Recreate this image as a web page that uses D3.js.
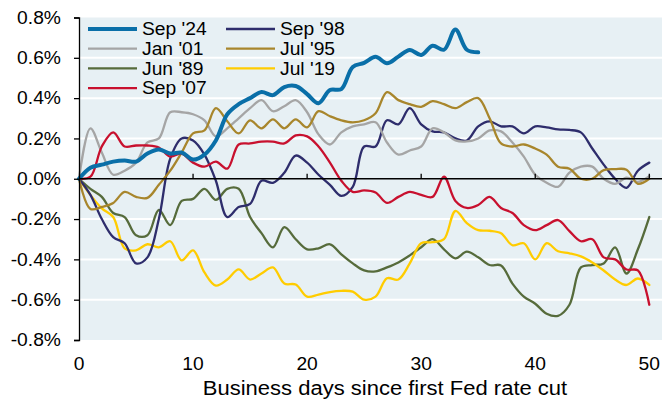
<!DOCTYPE html>
<html>
<head>
<meta charset="utf-8">
<script src="https://cdn.jsdelivr.net/npm/d3@7"></script>
<style>
  body { margin: 0; background: #fff; }
  svg.vis { width: 667px; height: 400px; display: block; font-family: "Liberation Sans", Arial, sans-serif; }
</style>
</head>
<body>
<svg class="vis" width="667" height="400"></svg>
<script>
// % change by business day since first cut (index = day)
const sep24 = [0, 0.055, 0.07, 0.085, 0.09, 0.085, 0.125, 0.145, 0.125, 0.13, 0.095, 0.12, 0.19, 0.32, 0.37, 0.4,
  0.43, 0.415, 0.455, 0.46, 0.42, 0.375, 0.44, 0.445, 0.555, 0.575, 0.605, 0.573, 0.606, 0.639, 0.614, 0.66, 0.64, 0.74, 0.64, 0.627];
const jan01 = [0, 0.25, 0.13, 0.02, 0.04, 0.08, 0.18, 0.2, 0.33, 0.33, 0.32, 0.29, 0.21, 0.25, 0.3, 0.35,
  0.39, 0.335, 0.36, 0.39, 0.33, 0.22, 0.17, 0.23, 0.26, 0.27, 0.28, 0.18, 0.12, 0.14, 0.16, 0.25, 0.23, 0.19, 0.185, 0.2,
  0.24, 0.235, 0.18, 0.11, 0.02, -0.02, -0.04, 0.03, 0.06, 0.06, 0.0, -0.025, 0.005, -0.015, 0.013];
const jun89 = [0, -0.05, -0.09, -0.17, -0.19, -0.28, -0.28, -0.155, -0.23, -0.11, -0.1, -0.05, -0.105, -0.05, -0.05, -0.19,
  -0.27, -0.34, -0.24, -0.3, -0.35, -0.345, -0.325, -0.375, -0.42, -0.455, -0.46, -0.44, -0.415, -0.38, -0.34, -0.3, -0.35, -0.395, -0.362, -0.39,
  -0.428, -0.43, -0.52, -0.585, -0.62, -0.67, -0.68, -0.625, -0.44, -0.428, -0.42, -0.34, -0.47, -0.35, -0.19];
const sep07 = [0, 0.01, 0.16, 0.23, 0.16, 0.165, 0.165, 0.155, 0.11, 0.125, 0.08, 0.06, 0.085, 0.05, 0.17, 0.175,
  0.184, 0.184, 0.175, 0.215, 0.21, 0.16, 0.08, -0.01, -0.065, -0.058, -0.068, -0.12, -0.09, -0.065, -0.08, -0.09, 0.01, -0.11, -0.145, -0.13,
  -0.09, -0.145, -0.17, -0.23, -0.255, -0.23, -0.205, -0.26, -0.31, -0.3, -0.39, -0.4, -0.45, -0.455, -0.625];
const sep98 = [0, -0.08, -0.2, -0.29, -0.32, -0.42, -0.39, -0.2, 0.1, 0.2, 0.19, 0.12, -0.01, -0.19, -0.14, -0.125,
  -0.01, -0.02, 0.03, 0.115, 0.08, 0.02, -0.03, -0.085, -0.04, 0.16, 0.16, 0.29, 0.27, 0.35, 0.27, 0.235, 0.23, 0.2, 0.19, 0.26,
  0.285, 0.26, 0.26, 0.225, 0.26, 0.255, 0.245, 0.242, 0.23, 0.15, 0.07, 0.0, -0.045, 0.04, 0.08];
const jul95 = [0, -0.15, -0.14, -0.12, -0.065, -0.09, -0.095, -0.03, 0.04, 0.13, 0.225, 0.24, 0.35, 0.285, 0.225, 0.29,
  0.25, 0.295, 0.25, 0.295, 0.255, 0.335, 0.31, 0.29, 0.28, 0.29, 0.325, 0.43, 0.39, 0.37, 0.357, 0.385, 0.37, 0.35, 0.38, 0.4,
  0.3, 0.175, 0.16, 0.17, 0.15, 0.12, 0.06, 0.05, 0.0, 0.0, 0.043, 0.048, 0.045, -0.025, 0.0];
const jul19 = [0, -0.08, -0.147, -0.19, -0.345, -0.355, -0.325, -0.34, -0.31, -0.405, -0.355, -0.465, -0.53, -0.5, -0.45, -0.5,
  -0.47, -0.44, -0.52, -0.525, -0.585, -0.575, -0.562, -0.556, -0.56, -0.6, -0.585, -0.494, -0.5, -0.42, -0.32, -0.315, -0.3, -0.16, -0.22, -0.255,
  -0.258, -0.27, -0.33, -0.32, -0.4, -0.32, -0.36, -0.37, -0.385, -0.415, -0.455, -0.5, -0.527, -0.495, -0.527];

const yTicks = [-0.8, -0.6, -0.4, -0.2, 0, 0.2, 0.4, 0.6, 0.8];
const xTicks = [0, 10, 20, 30, 40, 50];
const xTitle = 'Business days since first Fed rate cut';

const legendCol1 = ["Sep '24", "Jan '01", "Jun '89", "Sep '07"];
const legendCol2 = ["Sep '98", "Jul '95", "Jul '19"];

const v = {

    series : [
        { name : "Jun '89", values : jun89, color : '#566b3b', width : 2.3 },
        { name : "Jul '19", values : jul19, color : '#ffcc00', width : 2.3 },
        { name : "Sep '98", values : sep98, color : '#2e2d6c', width : 2.3 },
        { name : "Jan '01", values : jan01, color : '#a5a5a5', width : 2.3 },
        { name : "Jul '95", values : jul95, color : '#a8862c', width : 2.3 },
        { name : "Sep '07", values : sep07, color : '#c8102e', width : 2.3 },
        { name : "Sep '24", values : sep24, color : '#0a6fa8', width : 4 }
    ],

    sizings : {
        left : 79,
        right : 662,
        top : 17.5,
        bottom : 340,
        x50 : 649.3,
        stretch : 1.1,
        font : 17.5,
        yLabelRight : 61
    },

    scales : {
        x : null,
        y : null,
        make : () => {
            const s = v.sizings;
            v.scales.x = d3.scaleLinear().domain([0, 50]).range([s.left, s.x50]);
            v.scales.y = d3.scaleLinear().domain([-0.8, 0.8]).range([s.bottom, s.top]);
        }
    },

    // widen glyphs a little, the source chart text is horizontally stretched
    widen : (sel) => {
        sel.each(function() {
            const w = this.getComputedTextLength();
            d3.select(this)
              .attr('textLength', w * v.sizings.stretch)
              .attr('lengthAdjust', 'spacingAndGlyphs');
        });
    },

    // plain hyphen instead of d3's unicode minus
    pct : d => d3.format('.1f')(d).replace('\u2212', '-') + '%',

    render : {

        frame : (svg) => {
            const s = v.sizings, y = v.scales.y;

            svg.append('rect')
              .attr('x', s.left).attr('y', s.top)
              .attr('width', s.right - s.left).attr('height', s.bottom - s.top)
              .attr('fill', '#e7f0f4');

            svg.append('g')
              .selectAll('line')
              .data(yTicks.filter(d => d !== 0 && d !== 0.8 && d !== -0.8))
              .join('line')
              .attr('x1', s.left).attr('x2', s.right)
              .attr('y1', d => y(d)).attr('y2', d => y(d))
              .attr('stroke', '#fff').attr('stroke-width', 2);
        },

        axes : (svg) => {
            const s = v.sizings, x = v.scales.x, y = v.scales.y;

            // y axis: line + ticks from d3, labels placed by hand (start-anchored)
            const ya = svg.append('g').attr('transform', `translate(${s.left},0)`)
              .call(d3.axisLeft(y).tickValues(yTicks).tickSize(5).tickFormat(''));
            ya.select('.domain').attr('stroke', '#000').attr('stroke-width', 1.3);
            ya.selectAll('.tick line').attr('stroke', '#000').attr('stroke-width', 1.3);

            svg.append('g')
              .selectAll('text')
              .data(yTicks)
              .join('text')
              .attr('y', d => y(d) + s.font * 0.35)
              .attr('font-size', s.font)
              .attr('fill', '#000')
              .text(v.pct)
              .each(function() {
                  const w = this.getComputedTextLength() * s.stretch;
                  d3.select(this)
                    .attr('x', s.yLabelRight - w)
                    .attr('textLength', w)
                    .attr('lengthAdjust', 'spacingAndGlyphs');
              });

            // zero line with upward ticks
            svg.append('line')
              .attr('x1', s.left).attr('x2', s.right)
              .attr('y1', y(0)).attr('y2', y(0))
              .attr('stroke', '#000').attr('stroke-width', 1.3);
            svg.append('g')
              .selectAll('line')
              .data(xTicks.filter(d => d > 0))
              .join('line')
              .attr('x1', d => x(d)).attr('x2', d => x(d))
              .attr('y1', y(0)).attr('y2', y(0) - 5)
              .attr('stroke', '#000').attr('stroke-width', 1.3);

            svg.append('g')
              .selectAll('text')
              .data(xTicks)
              .join('text')
              .attr('x', d => x(d)).attr('y', 370)
              .attr('text-anchor', 'middle')
              .attr('font-size', s.font)
              .text(d => d)
              .call(v.widen);

            svg.append('text')
              .attr('x', 385).attr('y', 395)
              .attr('text-anchor', 'middle')
              .attr('font-size', 20)
              .text(xTitle)
              .call(v.widen);
        },

        lines : (svg) => {
            const x = v.scales.x, y = v.scales.y;
            const line = d3.line()
              .x((d, i) => x(i))
              .y(d => y(d))
              .curve(d3.curveCatmullRom.alpha(0.5));

            svg.append('g')
              .selectAll('path')
              .data(v.series)
              .join('path')
              .attr('d', d => line(d.values))
              .attr('fill', 'none')
              .attr('stroke', d => d.color)
              .attr('stroke-width', d => d.width)
              .attr('stroke-linejoin', 'round')
              .attr('stroke-linecap', 'round');
        },

        legend : (svg) => {
            const byName = {};
            v.series.forEach(d => byName[d.name] = d);
            const cols = [
                { names : legendCol1, x0 : 88 },
                { names : legendCol2, x0 : 226 }
            ];
            cols.forEach(c => {
                const g = svg.append('g')
                  .selectAll('g')
                  .data(c.names)
                  .join('g')
                  .attr('transform', (d, i) => `translate(${c.x0},${29 + i * 19.7})`);
                g.append('line')
                  .attr('x1', 0).attr('x2', 49)
                  .attr('stroke', d => byName[d].color)
                  .attr('stroke-width', d => byName[d].width);
                g.append('text')
                  .attr('x', 54).attr('y', 6.3)
                  .attr('font-size', v.sizings.font)
                  .text(d => d)
                  .call(v.widen);
            });
        }
    },

    ctrl : {
        init : () => {
            const svg = d3.select('svg.vis');
            v.scales.make();
            v.render.frame(svg);
            v.render.lines(svg);
            v.render.axes(svg);
            v.render.legend(svg);
        }
    }

};

v.ctrl.init();
</script>
</body>
</html>
